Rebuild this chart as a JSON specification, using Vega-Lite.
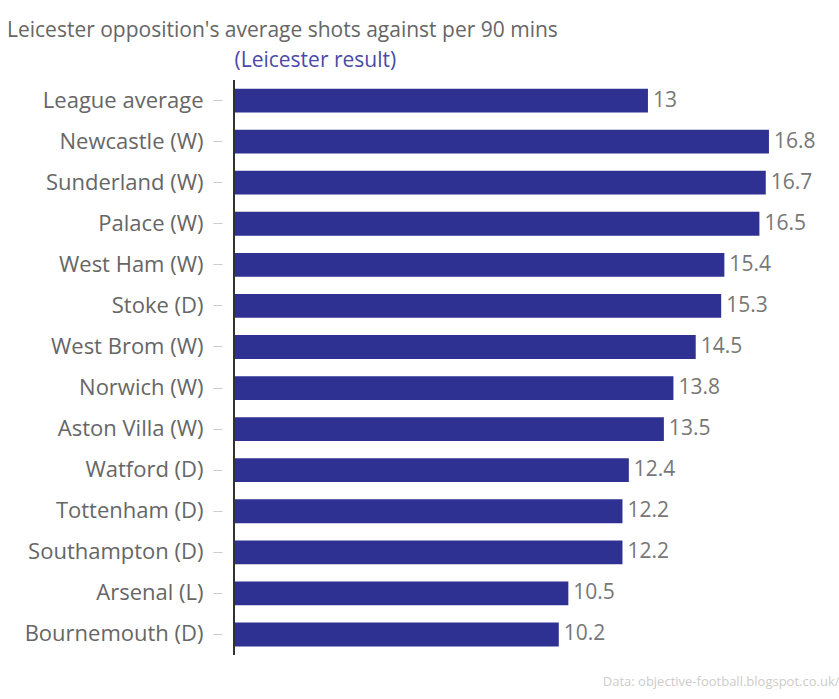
{
  "$schema": "https://vega.github.io/schema/vega-lite/v6.json",
  "autosize": "none",
  "width": 605,
  "height": 575,
  "padding": {"left": 234, "top": 80, "right": 0, "bottom": 44},
  "background": "white",
  "title": {
    "text": "Leicester opposition's average shots against per 90 mins",
    "anchor": "start",
    "frame": "group",
    "dx": -227,
    "offset": 8,
    "fontSize": 21,
    "font": "Open Sans",
    "fontWeight": "normal",
    "color": "#666"
  },
  "data": {
    "values": [
      {"team": "League average", "shots": 13},
      {"team": "Newcastle (W)", "shots": 16.8},
      {"team": "Sunderland (W)", "shots": 16.7},
      {"team": "Palace (W)", "shots": 16.5},
      {"team": "West Ham (W)", "shots": 15.4},
      {"team": "Stoke (D)", "shots": 15.3},
      {"team": "West Brom (W)", "shots": 14.5},
      {"team": "Norwich (W)", "shots": 13.8},
      {"team": "Aston Villa (W)", "shots": 13.5},
      {"team": "Watford (D)", "shots": 12.4},
      {"team": "Tottenham (D)", "shots": 12.2},
      {"team": "Southampton (D)", "shots": 12.2},
      {"team": "Arsenal (L)", "shots": 10.5},
      {"team": "Bournemouth (D)", "shots": 10.2}
    ]
  },
  "encoding": {
    "y": {
      "field": "team",
      "type": "nominal",
      "sort": null,
      "scale": {"paddingInner": 0.42, "paddingOuter": 0.21},
      "axis": {
        "title": null,
        "domain": false,
        "offset": 12,
        "tickSize": 9,
        "tickColor": "#ccc",
        "labelPadding": 10,
        "labelFontSize": 22,
        "labelFont": "Open Sans",
        "labelColor": "#666"
      }
    }
  },
  "layer": [
    {
      "mark": {"type": "bar", "color": "#2e3192"},
      "encoding": {
        "x": {
          "field": "shots",
          "type": "quantitative",
          "scale": {"domain": [0, 19], "nice": false},
          "axis": {
            "orient": "top",
            "title": "(Leicester result)",
            "titleAnchor": "start",
            "titleFontSize": 21,
            "titleFont": "Open Sans",
            "titleFontWeight": "normal",
            "titleColor": "#4a4aa8",
            "titlePadding": 10,
            "domain": false,
            "ticks": false,
            "labels": false,
            "grid": false
          }
        }
      }
    },
    {
      "mark": {"type": "text", "align": "left", "baseline": "middle", "dx": 5, "fontSize": 21, "font": "Open Sans", "color": "#777"},
      "encoding": {
        "x": {"field": "shots", "type": "quantitative", "axis": null},
        "text": {"field": "shots", "type": "quantitative"}
      }
    },
    {
      "mark": {"type": "rule", "color": "#333", "strokeWidth": 1},
      "encoding": {
        "x": {
          "datum": 0,
          "type": "quantitative",
          "axis": {
            "orient": "bottom",
            "title": "Data: objective-football.blogspot.co.uk/",
            "titleAnchor": "end",
            "titleFontSize": 13,
            "titleFont": "Open Sans",
            "titleFontWeight": "normal",
            "titleColor": "#ccc",
            "titlePadding": 20,
            "domain": false,
            "ticks": false,
            "labels": false,
            "grid": false
          }
        },
        "y": null
      }
    }
  ],
  "resolve": {"axis": {"x": "independent"}},
  "config": {"view": {"stroke": null}}
}
